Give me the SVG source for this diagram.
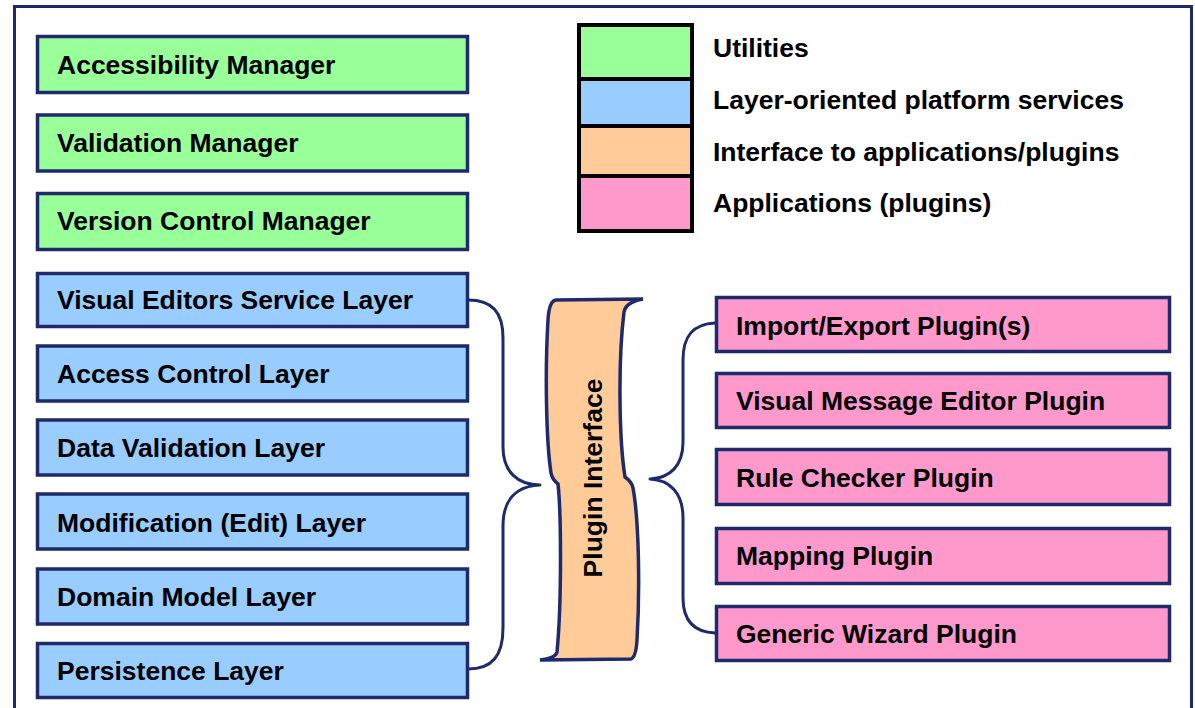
<svg xmlns="http://www.w3.org/2000/svg" width="1195" height="708" viewBox="0 0 1195 708">
  <style>
    .box { stroke: #1e2a6b; stroke-width: 3.5; }
    .util { fill: #99ff99; }
    .layer { fill: #99ccff; }
    .app { fill: #ff99cc; }
    .iface { fill: #ffcc99; }
    .lbl { font-family: "Liberation Sans", Arial, Helvetica, sans-serif; font-weight: bold; font-size: 26.5px; fill: #000000; }
    .brace { fill: none; stroke: #1e2a6b; stroke-width: 3; stroke-linecap: round; stroke-linejoin: round; }
    .legend { stroke: #000000; stroke-width: 4; }
  </style>

  <rect width="1195" height="708" fill="#ffffff"/>

  <!-- outer frame -->
  <rect id="frame" x="14.5" y="6.5" width="1177" height="712" fill="none" stroke="#1e2a6b" stroke-width="3"/>

  <!-- utilities -->
  <g id="accessibility-manager">
    <rect class="box util" x="37.5" y="36.5" width="430" height="56"/>
    <text class="lbl" x="57" y="74">Accessibility Manager</text>
  </g>
  <g id="validation-manager">
    <rect class="box util" x="37.5" y="115" width="430" height="56"/>
    <text class="lbl" x="57" y="152">Validation Manager</text>
  </g>
  <g id="version-control-manager">
    <rect class="box util" x="37.5" y="193.5" width="430" height="56"/>
    <text class="lbl" x="57" y="230">Version Control Manager</text>
  </g>

  <!-- platform layers -->
  <g id="visual-editors-layer">
    <rect class="box layer" x="37.5" y="273.5" width="430" height="53"/>
    <text class="lbl" x="57" y="309">Visual Editors Service Layer</text>
  </g>
  <g id="access-control-layer">
    <rect class="box layer" x="37.5" y="346" width="430" height="55"/>
    <text class="lbl" x="57" y="383">Access Control Layer</text>
  </g>
  <g id="data-validation-layer">
    <rect class="box layer" x="37.5" y="420" width="430" height="55"/>
    <text class="lbl" x="57" y="457">Data Validation Layer</text>
  </g>
  <g id="modification-layer">
    <rect class="box layer" x="37.5" y="494" width="430" height="55"/>
    <text class="lbl" x="57" y="532">Modification (Edit) Layer</text>
  </g>
  <g id="domain-model-layer">
    <rect class="box layer" x="37.5" y="569" width="430" height="55"/>
    <text class="lbl" x="57" y="606">Domain Model Layer</text>
  </g>
  <g id="persistence-layer">
    <rect class="box layer" x="37.5" y="643.5" width="430" height="54"/>
    <text class="lbl" x="57" y="680">Persistence Layer</text>
  </g>

  <!-- plugin interface band -->
  <g id="plugin-interface">
    <path class="box iface" d="M 643 299 L 556 300 Q 549 301 548 320 C 545 370 546 440 551 473 Q 552 479 558 484 C 561 510 562 600 557 652 Q 556 658 540 660 L 631 659 Q 636 657 637 640 C 640 590 639 520 633 488 Q 632 482 625 477 C 619 440 618 360 624 312 Q 626 302 643 299 Z"/>
    <text class="lbl" transform="translate(602,478) rotate(-90)" text-anchor="middle">Plugin Interface</text>
  </g>

  <!-- plugins -->
  <g id="import-export-plugin">
    <rect class="box app" x="716.5" y="297.5" width="453" height="54"/>
    <text class="lbl" x="736" y="335">Import/Export Plugin(s)</text>
  </g>
  <g id="visual-message-editor-plugin">
    <rect class="box app" x="716.5" y="373.5" width="453" height="54"/>
    <text class="lbl" x="736" y="410">Visual Message Editor Plugin</text>
  </g>
  <g id="rule-checker-plugin">
    <rect class="box app" x="716.5" y="449.5" width="453" height="55"/>
    <text class="lbl" x="736" y="487">Rule Checker Plugin</text>
  </g>
  <g id="mapping-plugin">
    <rect class="box app" x="716.5" y="528.5" width="453" height="55"/>
    <text class="lbl" x="736" y="565">Mapping Plugin</text>
  </g>
  <g id="generic-wizard-plugin">
    <rect class="box app" x="716.5" y="606.5" width="453" height="54"/>
    <text class="lbl" x="736" y="643">Generic Wizard Plugin</text>
  </g>

  <!-- braces joining layers and plugins to the interface -->
  <g id="connectors">
    <path class="brace" d="M 468 300 C 492 300 503 312 503 338 L 503 447 C 503 472 518 485 540 485 C 518 486 503 498 503 526 L 503 628 C 503 656 492 669 468 669"/>
    <path class="brace" d="M 715 323 C 693 324 683 336 683 360 L 683 442 C 683 466 670 478 650 479 C 670 480 683 493 683 518 L 683 598 C 683 620 693 632 715 633"/>
  </g>

  <!-- legend -->
  <g id="legend">
    <rect class="legend" x="579" y="25" width="113" height="54" fill="#99ff99"/>
    <rect class="legend" x="579" y="79" width="113" height="47" fill="#99ccff"/>
    <rect class="legend" x="579" y="126" width="113" height="50" fill="#ffcc99"/>
    <rect class="legend" x="579" y="176" width="113" height="55" fill="#ff99cc"/>
    <text class="lbl" x="713" y="57">Utilities</text>
    <text class="lbl" x="713" y="109">Layer-oriented platform services</text>
    <text class="lbl" x="713" y="161">Interface to applications/plugins</text>
    <text class="lbl" x="713" y="212">Applications (plugins)</text>
  </g>
</svg>
